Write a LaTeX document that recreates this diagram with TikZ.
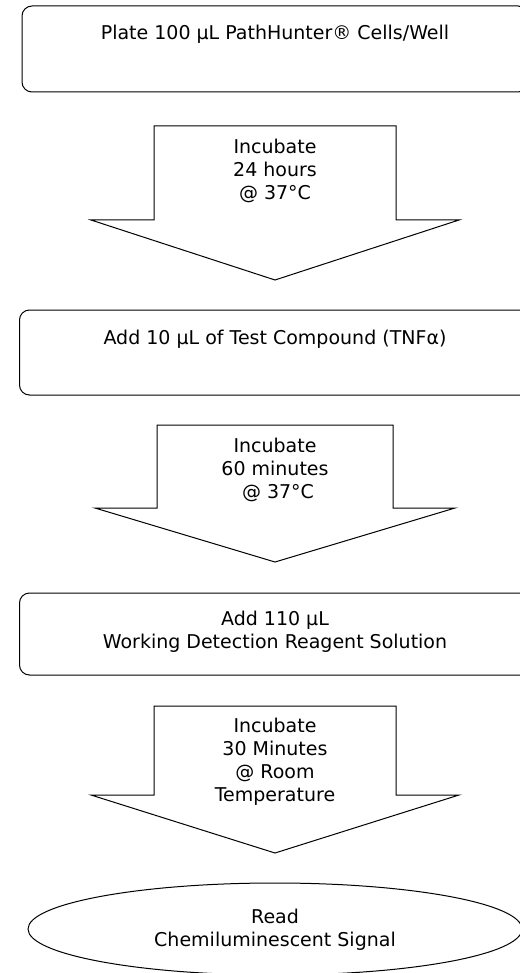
\documentclass[tikz,border=0pt]{standalone}
\usepackage{fontspec}
\setmainfont{DejaVu Sans}
\usetikzlibrary{shapes.geometric}
\tikzset{
  stepbox/.style={draw, line width=1pt, rounded corners=10pt, minimum height=86pt, inner sep=0pt},
  txt/.style={font=\fontsize{19}{23}\selectfont, align=center, inner sep=0pt},
  blockarrow/.style={draw, line width=1pt, line join=miter},
  readnode/.style={draw, ellipse, line width=1pt, minimum width=494pt, minimum height=92pt, inner sep=0pt}
}
\begin{document}
\begin{tikzpicture}[x=1pt,y=-1pt]
\useasboundingbox (0,0) rectangle (519,973);
% box 1
\node[stepbox, minimum width=506pt] (b1) at (275,49) {};
\node[txt] (t1) at (275,34) {Plate 100 μL PathHunter® Cells/Well};
% arrow 1
\coordinate (a1tl) at (154,126);
\coordinate (a1tr) at (396,126);
\draw[blockarrow] (a1tl) -- (a1tr) -- (396,220) -- (459,220) -- (275,280) -- (91,220) -- (154,220) -- cycle;
\node[txt] (t2) at (275,171) {Incubate\\24 hours\\@ 37°C};
% box 2
\node[stepbox, minimum width=511pt, minimum height=85pt] (b2) at (275,352.5) {};
\node[txt] (t3) at (275,339) {Add 10 μL of Test Compound (TNFα)};
% arrow 2
\coordinate (a2tl) at (157,425);
\coordinate (a2tr) at (393,425);
\draw[blockarrow] (a2tl) -- (a2tr) -- (393,508) -- (455,508) -- (275,562) -- (95,508) -- (157,508) -- cycle;
\node[txt] (t4) at (275,470) {Incubate\\60 minutes\\\ @ 37°C};
% box 3
\node[stepbox, minimum width=511pt, minimum height=82pt] (b3) at (275,634) {};
\node[txt] (t5) at (275,632) {Add 110 μL\\Working Detection Reagent Solution};
% arrow 3
\coordinate (a3tl) at (154,706);
\coordinate (a3tr) at (396,706);
\draw[blockarrow] (a3tl) -- (a3tr) -- (396,795) -- (459,795) -- (275,853) -- (91,795) -- (154,795) -- cycle;
\node[txt] (t6) at (275,762) {Incubate\\30 Minutes\\@ Room\\Temperature};
% ellipse
\node[readnode] (r) at (275,929) {};
\node[txt] (t7) at (275,930) {Read\\Chemiluminescent Signal};
\end{tikzpicture}
\end{document}
